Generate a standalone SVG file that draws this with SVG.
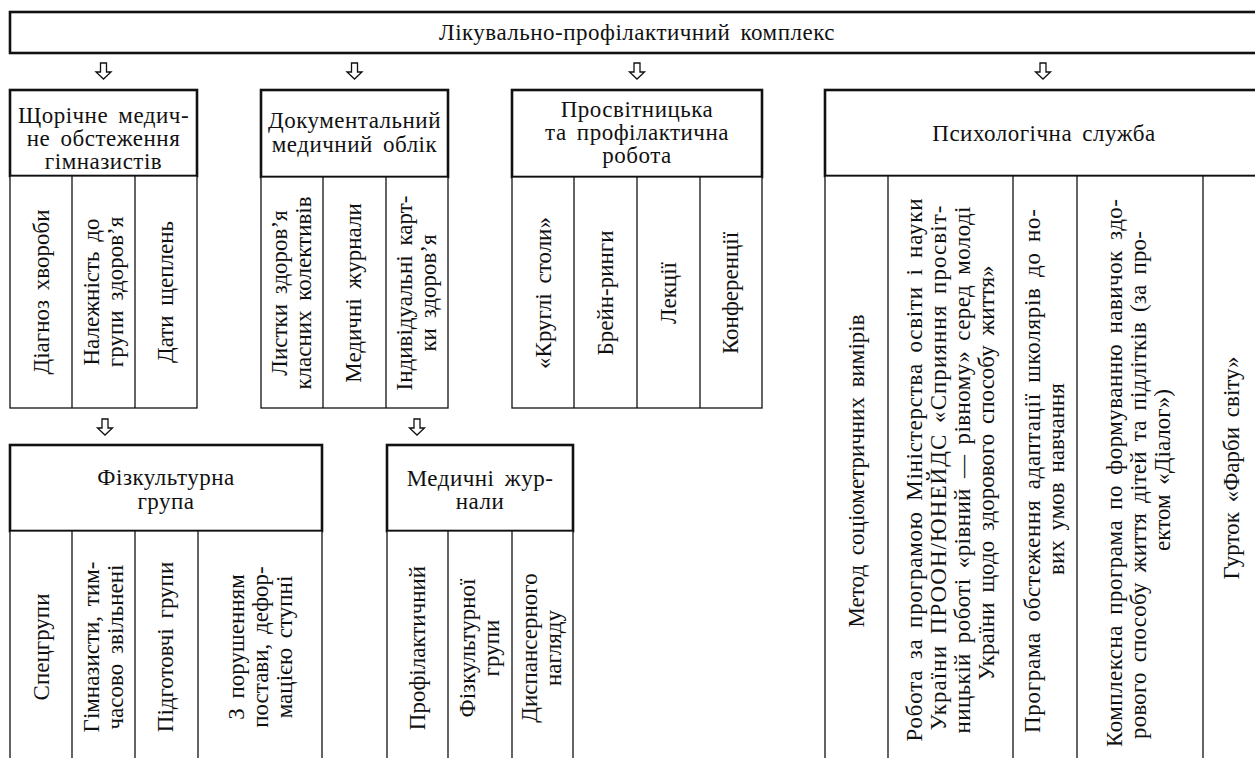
<svg xmlns="http://www.w3.org/2000/svg" width="1255" height="758" viewBox="0 0 1255 758">
<style>
.t{font-family:'Liberation Serif','Times New Roman',serif;font-size:23px;fill:#111;word-spacing:4px}
.hz{letter-spacing:0.5px}
.h{fill:#fff;stroke:#111;stroke-width:2.6}
.c{fill:#fff;stroke:#111;stroke-width:1.3}
.d{stroke:#111;stroke-width:1.3}
.ar{fill:#fff;stroke:#111;stroke-width:1.3}
</style>
<rect width="1255" height="758" fill="#fff"/>
<g id="top">
<rect class="h" x="10" y="12" width="1260" height="41"/>
<text class="t hz" x="637" y="40" text-anchor="middle">Лікувально-профілактичний комплекс</text>
</g>
<g id="connectors">
<path class="ar" d="M100.5 63V72H96L103.5 79L111 72H106.5V63Z"/>
<path class="ar" d="M351.5 63V72H347L354.5 79L362 72H357.5V63Z"/>
<path class="ar" d="M634 63V72H629.5L637 79L644.5 72H640V63Z"/>
<path class="ar" d="M1040 63V72H1035.5L1043 79L1050.5 72H1046V63Z"/>
<path class="ar" d="M102 419V428H97.5L105 435L112.5 428H108V419Z"/>
<path class="ar" d="M414 419V428H409.5L417 435L424.5 428H420V419Z"/>
</g>
<g id="medical-exam">
<rect class="h" x="10" y="90" width="187" height="86"/>
<rect class="c" x="10" y="176" width="187" height="232"/>
<line class="d" x1="72" y1="176" x2="72" y2="408"/>
<line class="d" x1="135" y1="176" x2="135" y2="408"/>
<g class="t" text-anchor="middle">
<text class="hz" x="103.5" y="123">Щорічне медич-</text>
<text class="hz" x="103.5" y="146">не обстеження</text>
<text class="hz" x="103.5" y="169">гімназистів</text>
<text transform="translate(49,292) rotate(-90)">Діагноз хвороби</text>
<text transform="translate(99,292) rotate(-90)">Належність до</text>
<text transform="translate(123,292) rotate(-90)">групи здоров’я</text>
<text transform="translate(173,292) rotate(-90)">Дати щеплень</text>
</g>
</g>
<g id="documentation">
<rect class="h" x="261" y="90" width="187" height="87"/>
<rect class="c" x="261" y="177" width="187" height="231"/>
<line class="d" x1="323" y1="177" x2="323" y2="408"/>
<line class="d" x1="386" y1="177" x2="386" y2="408"/>
<g class="t" text-anchor="middle">
<text class="hz" x="354.5" y="128">Документальний</text>
<text class="hz" x="354.5" y="152">медичний облік</text>
<text transform="translate(287,293) rotate(-90)">Листки здоров’я</text>
<text transform="translate(311,293) rotate(-90)">класних колективів</text>
<text transform="translate(361,293) rotate(-90)">Медичні журнали</text>
<text transform="translate(412,293) rotate(-90)">Індивідуальні карт-</text>
<text transform="translate(436,293) rotate(-90)">ки здоров’я</text>
</g>
</g>
<g id="education">
<rect class="h" x="512" y="90" width="250" height="87"/>
<rect class="c" x="512" y="177" width="250" height="231"/>
<line class="d" x1="574" y1="177" x2="574" y2="408"/>
<line class="d" x1="637" y1="177" x2="637" y2="408"/>
<line class="d" x1="700" y1="177" x2="700" y2="408"/>
<g class="t" text-anchor="middle">
<text class="hz" x="637" y="117">Просвітницька</text>
<text class="hz" x="637" y="140">та профілактична</text>
<text class="hz" x="637" y="163">робота</text>
<text transform="translate(551,293) rotate(-90)">«Круглі столи»</text>
<text transform="translate(613,293) rotate(-90)">Брейн-ринги</text>
<text transform="translate(676,293) rotate(-90)">Лекції</text>
<text transform="translate(738,293) rotate(-90)">Конференції</text>
</g>
</g>
<g id="psychology">
<rect class="h" x="825" y="90" width="440" height="86"/>
<rect class="c" x="825" y="176" width="440" height="590"/>
<line class="d" x1="888" y1="176" x2="888" y2="766"/>
<line class="d" x1="1013" y1="176" x2="1013" y2="766"/>
<line class="d" x1="1077" y1="176" x2="1077" y2="766"/>
<line class="d" x1="1203" y1="176" x2="1203" y2="766"/>
<g class="t" text-anchor="middle">
<text class="hz" x="1044" y="141">Психологічна служба</text>
<text transform="translate(864,471) rotate(-90)">Метод соціометричних вимірів</text>
<text transform="translate(922,470) rotate(-90)" textLength="543" lengthAdjust="spacing">Робота за програмою Міністерства освіти і науки</text>
<text transform="translate(946,468) rotate(-90)" textLength="525" lengthAdjust="spacing">України ПРООН/ЮНЕЙДС «Сприяння просвіт-</text>
<text transform="translate(970,470) rotate(-90)" textLength="527" lengthAdjust="spacing">ницькій роботі «рівний — рівному» серед молоді</text>
<text transform="translate(994,473) rotate(-90)">України щодо здорового способу життя»</text>
<text transform="translate(1040,471) rotate(-90)" textLength="524" lengthAdjust="spacing">Програма обстеження адаптації школярів до но-</text>
<text transform="translate(1064,479) rotate(-90)">вих умов навчання</text>
<text transform="translate(1122,473) rotate(-90)" textLength="548" lengthAdjust="spacing">Комплексна програма по формуванню навичок здо-</text>
<text transform="translate(1146,485) rotate(-90)" textLength="508" lengthAdjust="spacing">рового способу життя дітей та підлітків (за про-</text>
<text transform="translate(1170,470) rotate(-90)">ектом «Діалог»)</text>
<text transform="translate(1239,468) rotate(-90)">Гурток «Фарби світу»</text>
</g>
</g>
<g id="pe-group">
<rect class="h" x="10" y="445" width="312" height="86"/>
<rect class="c" x="10" y="531" width="312" height="235"/>
<line class="d" x1="72" y1="531" x2="72" y2="766"/>
<line class="d" x1="135" y1="531" x2="135" y2="766"/>
<line class="d" x1="198" y1="531" x2="198" y2="766"/>
<g class="t" text-anchor="middle">
<text class="hz" x="166" y="485">Фізкультурна</text>
<text class="hz" x="166" y="509">група</text>
<text transform="translate(49,647) rotate(-90)">Спецгрупи</text>
<text transform="translate(99,647) rotate(-90)">Гімназисти, тим-</text>
<text transform="translate(123,647) rotate(-90)">часово звільнені</text>
<text transform="translate(173,647) rotate(-90)">Підготовчі групи</text>
<text transform="translate(244,647) rotate(-90)">З порушенням</text>
<text transform="translate(268,647) rotate(-90)">постави, дефор-</text>
<text transform="translate(292,647) rotate(-90)">мацією ступні</text>
</g>
</g>
<g id="med-journals">
<rect class="h" x="387" y="445" width="186" height="86"/>
<rect class="c" x="387" y="531" width="186" height="235"/>
<line class="d" x1="448" y1="531" x2="448" y2="766"/>
<line class="d" x1="512" y1="531" x2="512" y2="766"/>
<g class="t" text-anchor="middle">
<text class="hz" x="480" y="486">Медичні жур-</text>
<text class="hz" x="480" y="509">нали</text>
<text transform="translate(425,648) rotate(-90)">Профілактичний</text>
<text transform="translate(475,648) rotate(-90)">Фізкультурної</text>
<text transform="translate(499,648) rotate(-90)">групи</text>
<text transform="translate(537,648) rotate(-90)">Диспансерного</text>
<text transform="translate(561,648) rotate(-90)">нагляду</text>
</g>
</g>
</svg>
